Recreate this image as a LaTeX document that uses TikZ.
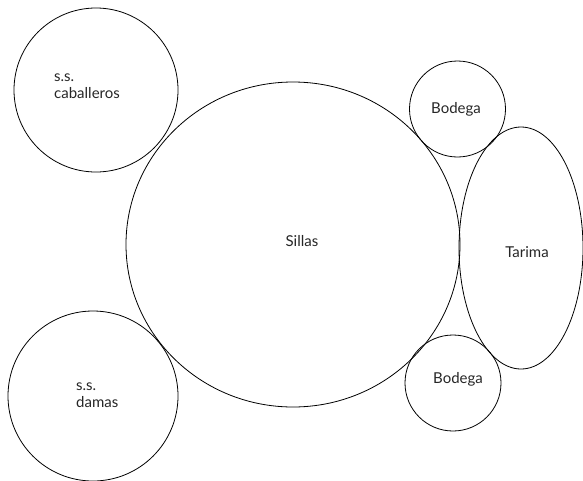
\documentclass[tikz,border=0pt]{standalone}
\usepackage{fontspec}
\setmainfont{Lato}
\begin{document}
\begin{tikzpicture}[x=1pt,y=-1pt,
  zone/.style={draw=black,line width=0.8pt},
  lbl/.style={font=\fontsize{15}{17.5}\selectfont,text=black!85,inner sep=0pt}]
\useasboundingbox (0,0) rectangle (583,480);
% zones
\draw[zone] (293,244.5) ellipse [x radius=167, y radius=162.5];
\draw[zone] (96,90) circle [radius=82];
\draw[zone] (93,396) circle [radius=85];
\draw[zone] (457.5,109) circle [radius=48];
\draw[zone] (453,383) circle [radius=48];
\draw[zone] (521,248) ellipse [x radius=62, y radius=121];
% labels
\node[lbl] (sillas) at (302,241) {Sillas};
\node[lbl,anchor=west,align=left] (cab) at (54,86) {s.s.\\caballeros};
\node[lbl,anchor=west,align=left] (dam) at (76,395) {s.s.\\damas};
\node[lbl] (bod1) at (456,109) {Bodega};
\node[lbl] (bod2) at (458,379) {Bodega};
\node[lbl] (tar) at (527,252) {Tarima};
\end{tikzpicture}
\end{document}
